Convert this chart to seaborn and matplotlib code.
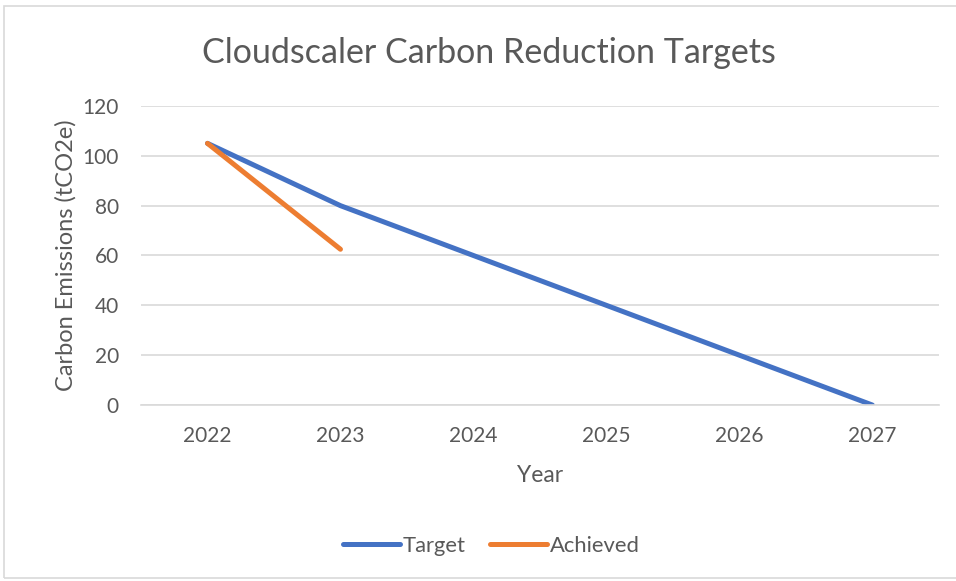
import matplotlib
matplotlib.use("Agg")
import matplotlib.pyplot as plt
import seaborn as sns
import pandas as pd
from matplotlib.patches import Rectangle
from matplotlib.lines import Line2D

years = [2022, 2023, 2024, 2025, 2026, 2027]
target = [105, 80, 60, 40, 20, 0]
achieved_years = [2022, 2023]
achieved = [105, 62.5]
yticks = [0, 20, 40, 60, 80, 100, 120]

sns.set_theme(style="white")
plt.rcParams['font.family'] = ['Lato', 'DejaVu Sans']

df = pd.concat([
    pd.DataFrame({"Year": years, "Value": target, "Series": "Target"}),
    pd.DataFrame({"Year": achieved_years, "Value": achieved, "Series": "Achieved"}),
])

text_color = "#595959"
grid_color = "#D9D9D9"

fig = plt.figure(figsize=(9.56, 5.81), dpi=100)
ax = fig.add_axes([0.1475, 0.3029, 0.982 - 0.1475, 0.8176 - 0.3029])

sns.lineplot(data=df, x="Year", y="Value", hue="Series",
             palette={"Target": "#4472C4", "Achieved": "#ED7D31"},
             linewidth=3.6, ax=ax, legend=False, sort=False)
for ln in ax.lines:
    ln.set_solid_capstyle("round")
    ln.set_solid_joinstyle("round")

ax.set_xlim(2021.5, 2027.5)
ax.set_ylim(0, 120)
ax.set_yticks(yticks)
ax.set_xticks(years)
ax.set_xticklabels([str(y) for y in years])
ax.grid(axis="y", color=grid_color, linewidth=1.2)
ax.set_axisbelow(True)
for s in ["top", "right", "left"]:
    ax.spines[s].set_visible(False)
ax.spines["bottom"].set_color(grid_color)
ax.spines["bottom"].set_linewidth(1.2)
ax.tick_params(axis="both", length=0, labelsize=15, colors=text_color)
ax.tick_params(axis="x", pad=15)
ax.tick_params(axis="y", pad=16)
ax.set_xlabel("Year", fontsize=16.5, color=text_color, labelpad=14)
ax.set_ylabel("Carbon Emissions (tCO2e)", fontsize=17, color=text_color, labelpad=4)
ax.patch.set_alpha(0)

fig.text(0.511, 1 - 53 / 581, "Cloudscaler Carbon Reduction Targets", ha="center", va="center",
         fontsize=24.5, color=text_color)

handles = [Line2D([], [], color="#4472C4", lw=3.6, solid_capstyle="round"),
           Line2D([], [], color="#ED7D31", lw=3.6, solid_capstyle="round")]
fig.legend(handles, ["Target", "Achieved"], loc="center", bbox_to_anchor=(0.514, 1 - 546 / 581),
           ncol=2, frameon=False, fontsize=15.8, labelcolor=text_color,
           handlelength=2.6, handletextpad=0.15, columnspacing=1.1)

fig.patches.append(Rectangle((4 / 956, 3 / 581), 1.0, 1 - 9 / 581, transform=fig.transFigure,
                             fill=False, edgecolor=grid_color, linewidth=1.2))

fig.savefig("out.png", dpi=100)
